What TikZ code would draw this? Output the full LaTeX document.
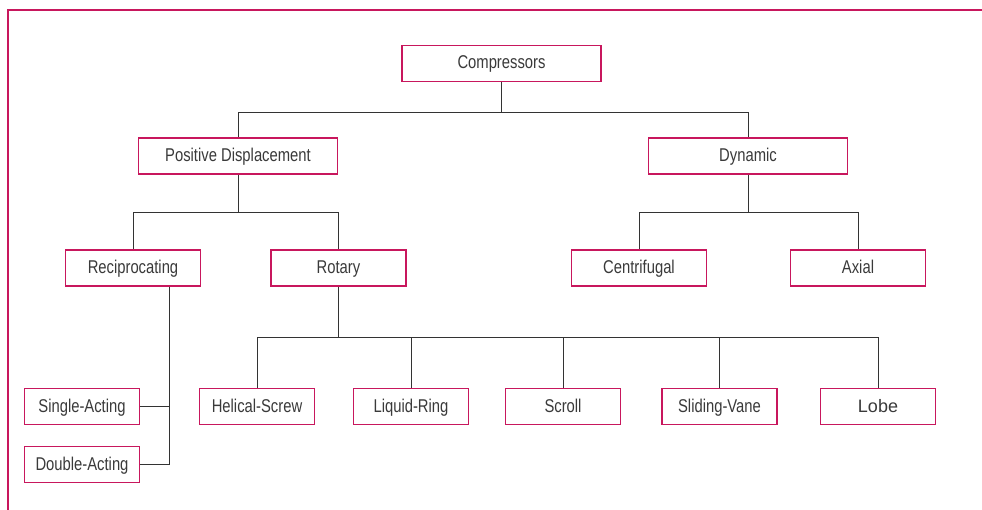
\documentclass[tikz,border=0pt]{standalone}
\usepackage{fontspec}
\setmainfont{Liberation Sans}
\newfontfamily\narrowfont[FakeStretch=0.8]{Liberation Sans}
\definecolor{frame}{HTML}{C8175D}
\definecolor{txt}{HTML}{3A3A3A}
\definecolor{wire}{HTML}{333333}
\begin{document}
\begin{tikzpicture}[x=1pt,y=-1pt,
  box/.style={draw=frame, line width=1.7pt, fill=white, inner sep=0pt,
    minimum height=36pt, text height=14pt, text depth=3pt, text=txt,
    font=\narrowfont\fontsize{18.5}{20}\selectfont},
  wide/.style={box, minimum width=199pt},
  mid/.style={box, minimum width=135pt},
  small/.style={box, minimum width=115pt},
  conn/.style={draw=wire, line width=0.9pt}]
\useasboundingbox (0,0) rectangle (982,510);
\fill[white] (0,0) rectangle (982,510);
\draw[frame, line width=2pt] (8,512) -- (8,10) -- (984,10);

\node[wide] (comp) at (501.5,63.5) {Compressors};
\node[wide] (pd) at (238,156) {Positive Displacement};
\node[wide] (dyn) at (748,156) {Dynamic};
\node[mid] (rec) at (133,268) {Reciprocating};
\node[mid] (rot) at (338.5,268) {Rotary};
\node[mid] (cen) at (639,268) {Centrifugal};
\node[mid] (axi) at (858,268) {Axial};
\node[small] (sa) at (82,406.5) {Single-Acting};
\node[small] (da) at (82,464.5) {Double-Acting};
\node[small] (hs) at (257,406.5) {Helical-Screw};
\node[small] (lr) at (411,406.5) {Liquid-Ring};
\node[small] (sc) at (563,406.5) {Scroll};
\node[small] (sv) at (719.5,406.5) {Sliding-Vane};
\node[small, font=\fontsize{18}{20}\selectfont] (lo) at (878,406.5) {Lobe};

\draw[conn] (comp.south) -- ++(0,30) coordinate (b1);
\draw[conn] (b1) -| (pd.north);
\draw[conn] (b1) -| (dyn.north);
\draw[conn] (pd.south) -- ++(0,38) coordinate (b2);
\draw[conn] (b2) -| (rec.north);
\draw[conn] (b2) -| (rot.north);
\draw[conn] (dyn.south) -- ++(0,38) coordinate (b3);
\draw[conn] (b3) -| (cen.north);
\draw[conn] (b3) -| (axi.north);
\draw[conn] ([xshift=36.5pt]rec.south) coordinate (r1) |- (da.east);
\draw[conn] (r1) |- (sa.east);
\draw[conn] (rot.south) -- ++(0,51) coordinate (b4);
\draw[conn] (b4) -| (hs.north);
\draw[conn] (b4) -| (lr.north);
\draw[conn] (b4) -| (sc.north);
\draw[conn] (b4) -| (sv.north);
\draw[conn] (b4) -| (lo.north);
\end{tikzpicture}
\end{document}
